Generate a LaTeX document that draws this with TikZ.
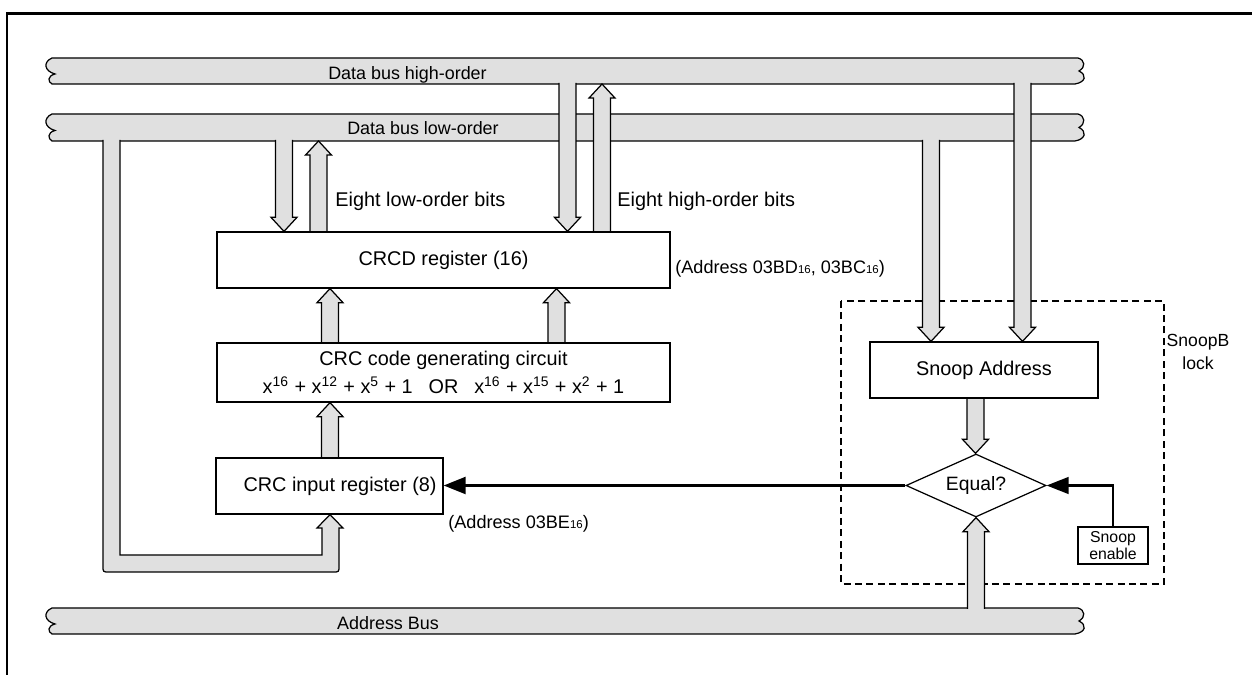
\documentclass[tikz,border=0pt]{standalone}
\usepackage{fontspec}
\setmainfont{Liberation Sans}
\usepackage{tikz}
\usetikzlibrary{shapes.geometric,arrows.meta,calc}
\usepackage{xcolor}
\definecolor{busgray}{gray}{0.88}

\pgfdeclarelayer{back}
\pgfsetlayers{back,main}

\newcommand{\hexsub}[1]{{\fontsize{6.5}{7}\selectfont #1}}

% bus band with broken ends: #1 top edge, #2 bottom edge
\newcommand{\busband}[2]{%
  \draw[busfill] (52,#1) -- (1078,#1)
    .. controls (1085,{#1+2}) and (1086,{(#1+#2)/2-4}) .. (1079,{(#1+#2)/2})
    .. controls (1087,{(#1+#2)/2+4}) and (1086,{#2-2}) .. (1075,#2)
    -- (52,#2)
    .. controls (48,{#2-2}) and (47,{(#1+#2)/2+5}) .. (55,{(#1+#2)/2+3})
    .. controls (44,{(#1+#2)/2}) and (43,{#1+4}) .. (52,#1) -- cycle;}

% wide bus arrow: #1 x, #2 from, #3 to, #4 head offset
\newcommand{\fatarrow}[4]{%
  \path (#2 -| #1,0) coordinate (fa-s) (#3 -| #1,0) coordinate (fa-t);
  \draw[busfill] ([xshift=-4.8pt]fa-s) -- ([xshift=-4.8pt,yshift=#4]fa-t)
    -- ([xshift=-7.4pt,yshift=#4]fa-t) -- (fa-t)
    -- ([xshift=7.4pt,yshift=#4]fa-t) -- ([xshift=4.8pt,yshift=#4]fa-t)
    -- ([xshift=4.8pt]fa-s);}

\begin{document}
\begin{tikzpicture}[x=0.02cm, y=-0.02cm,
    busfill/.style={draw=black, fill=busgray, line width=0.7pt},
    regbox/.style={draw, fill=white, line width=0.7pt, inner sep=0pt, font=\fontsize{11.3}{15.9}\selectfont},
    buslabel/.style={anchor=base, inner sep=0pt, font=\fontsize{10.2}{12}\selectfont},
    addrnote/.style={anchor=base west, inner sep=0pt, font=\fontsize{10.3}{12}\selectfont},
    bitnote/.style={anchor=base west, inner sep=0pt, font=\fontsize{11.3}{13}\selectfont},
    ctrl/.style={line width=1.2pt, -{Triangle[length=12.5pt,width=9.5pt]}}]

    \useasboundingbox (0,0) rectangle (1252,675);

    % Frame
    \draw[line width=1.4pt] (7,675) -- (7,13.5) -- (1252,13.5);

    % Bus edges
    \coordinate (hibot) at (0,84);
    \coordinate (hi-in) at (0,83);
    \coordinate (lobot) at (0,141);
    \coordinate (lo-in) at (0,140);
    \coordinate (ad-in) at (0,609);

    % Registers and compare logic
    \node[regbox, minimum width=9.06cm, minimum height=1.12cm] (crcd) at (443.5,260) {CRCD register (16)};
    \node[regbox, minimum width=9.06cm, minimum height=1.18cm, align=center] (crcgen) at (443.5,372.5)
        {CRC code generating circuit\\
         x\textsuperscript{16} + x\textsuperscript{12} + x\textsuperscript{5} + 1\hspace{0.8em}OR\hspace{0.8em}x\textsuperscript{16} + x\textsuperscript{15} + x\textsuperscript{2} + 1};
    \node[regbox, minimum width=4.54cm, minimum height=1.12cm] (crcin) at (329.5,486) {\hspace{12pt}CRC input register (8)};
    \node[regbox, minimum width=4.56cm, minimum height=1.12cm] (snaddr) at (984,370) {Snoop Address};
    \node[regbox, diamond, aspect=2.2, minimum width=2.8cm, minimum height=1.26cm, font=\fontsize{11}{13}\selectfont] (equal) at (976,485.5) {Equal?};
    \node[regbox, minimum width=1.4cm, minimum height=0.74cm, align=center, font=\fontsize{9}{10}\selectfont] (snen) at (1113,545.5) {Snoop\\enable};

    % Labels
    \node[buslabel] (hilabel) at (407.5,80) {Data bus high-order};
    \node[buslabel] (lolabel) at (423,135) {Data bus low-order};
    \node[buslabel] (adlabel) at (388,630) {Address Bus};
    \node[bitnote] (lobits) at (335,207) {Eight low-order bits};
    \node[bitnote] (hibits) at (617,207) {Eight high-order bits};
    \node[addrnote] (crcdaddr) at (675,274) {(Address 03BD\hexsub{16}, 03BC\hexsub{16})};
    \node[addrnote] (crcinaddr) at (448,529) {(Address 03BE\hexsub{16})};
    \node[align=center, inner sep=0pt, font=\fontsize{10}{13}\selectfont] (snblk) at (1198,352) {SnoopB\\lock};

    \begin{pgfonlayer}{back}
    % Buses
    \busband{58}{84}
    \busband{114}{141}
    \busband{608}{634}

    % Snoop block
    \draw[dash pattern=on 4pt off 2.5pt, line width=0.7pt] (841,301) rectangle (1164,584);

    % Loop from low-order bus into CRC input register
    \draw[busfill] (103,140) -- (103,566) .. controls (103,572) .. (109,572)
        -- (333,572) .. controls (339,572) .. (339,566) -- (339,528) -- (343,528)
        -- (crcin.south -| 330,0) -- (317,528) -- (322,528) -- (322,555)
        -- (120,555) -- (120,140);

    % Bus arrows
    \fatarrow{284}{lo-in}{crcd.north}{8pt}
    \fatarrow{318.5}{crcd.north}{lobot}{-8pt}
    \fatarrow{567.5}{hi-in}{crcd.north}{8pt}
    \fatarrow{602}{crcd.north}{hibot}{-8pt}
    \fatarrow{330}{crcgen.north}{crcd.south}{-8pt}
    \fatarrow{556.5}{crcgen.north}{crcd.south}{-8pt}
    \fatarrow{330}{crcin.north}{crcgen.south}{-8pt}
    \fatarrow{931}{lo-in}{snaddr.north}{8pt}
    \fatarrow{1022.5}{hi-in}{snaddr.north}{8pt}
    \fatarrow{975.5}{snaddr.south}{equal.north}{8pt}
    \fatarrow{976}{ad-in}{equal.south}{-8pt}
    \end{pgfonlayer}

    % Control lines
    \draw[line width=1.7pt, -{Triangle[length=12.5pt,width=9.5pt]}] (equal.west) -- (equal.west -| crcin.east);
    \draw[ctrl] (snen.north) |- (equal.east);
\end{tikzpicture}
\end{document}
